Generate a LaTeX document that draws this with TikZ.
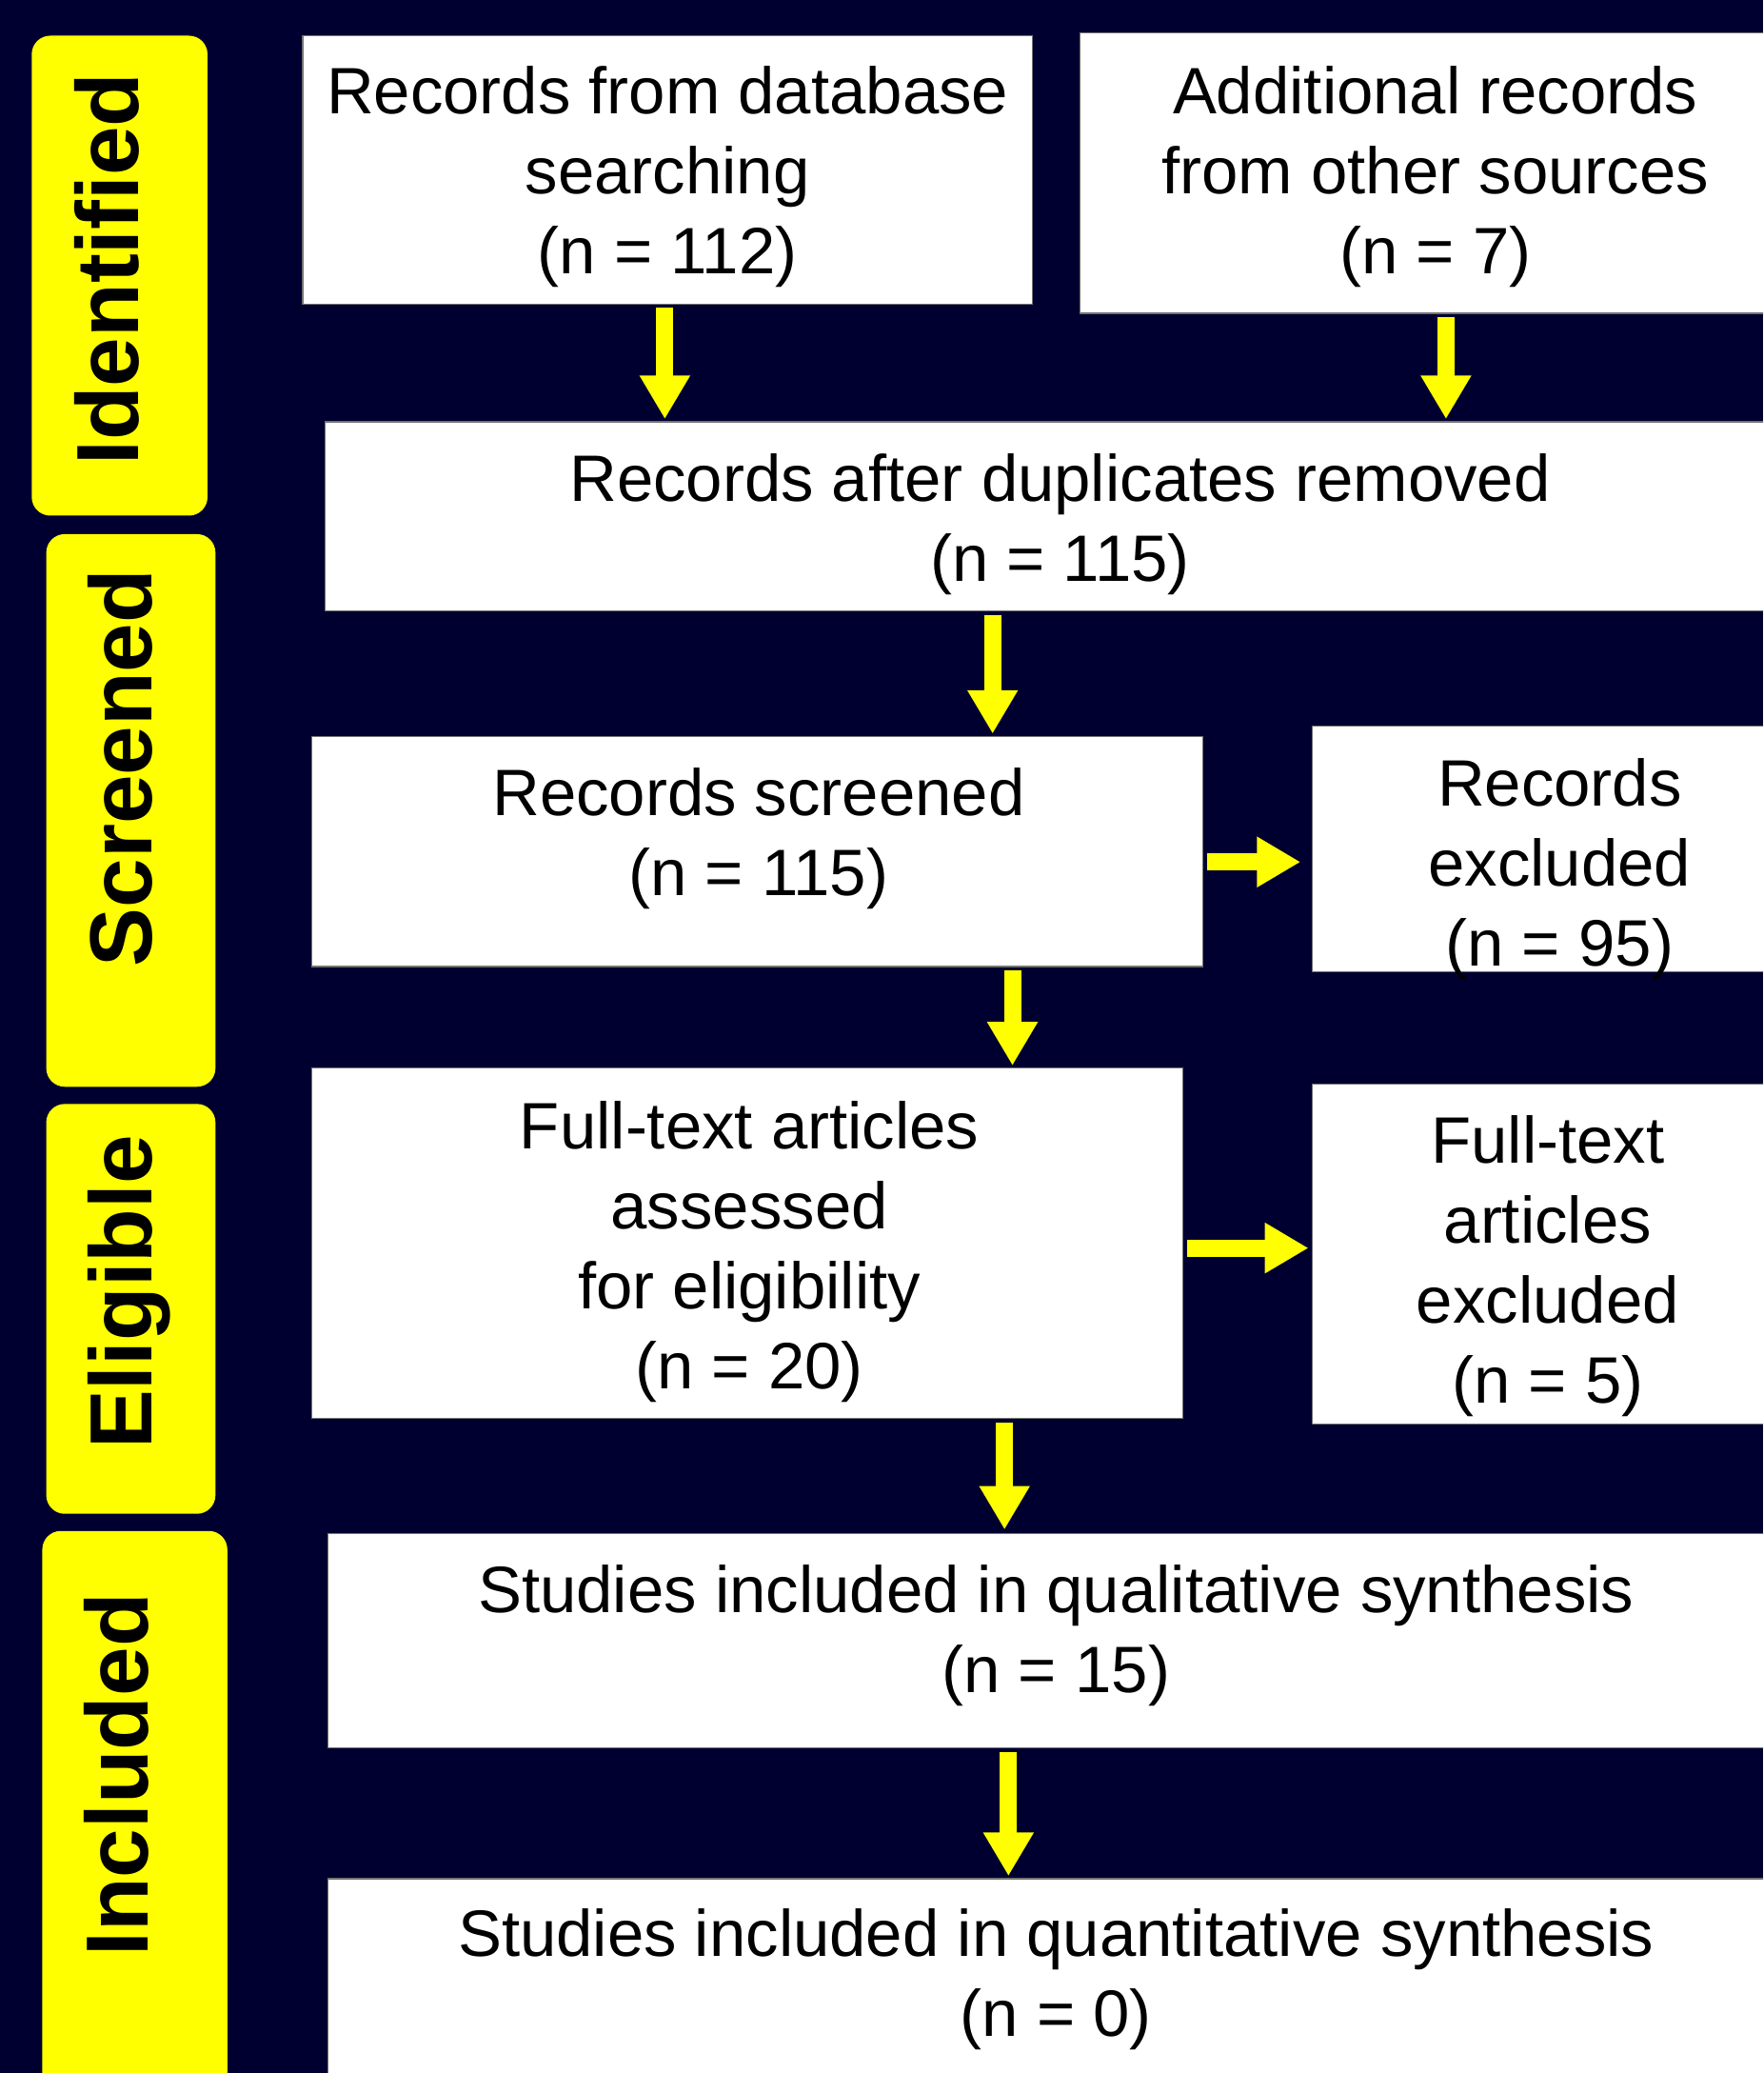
\documentclass[tikz,border=0pt]{standalone}
\usepackage{fontspec}
\setmainfont{Liberation Sans}
\usetikzlibrary{arrows.meta,fit,calc}
\definecolor{navybg}{RGB}{0,0,48}
\definecolor{ylw}{RGB}{255,255,0}
\begin{document}
\begin{tikzpicture}[x=0.02cm,y=-0.02cm,
  box/.style={draw=black!55, line width=0.5pt, fill=white, inner sep=0pt, outer sep=0pt},
  txt/.style={font=\fontsize{28.25}{34.43}\selectfont, align=center, inner sep=0pt, text=black},
  lbl/.style={fill=ylw, draw=none, inner sep=0pt, outer sep=0pt, rounded corners=0.28cm},
  lbltxt/.style={font=\fontsize{38}{45}\selectfont\bfseries, rotate=90, anchor=base, inner sep=0pt, text=black},
  arr/.style={draw=ylw, line width=0.26cm, -{Triangle[length=0.66cm,width=0.72cm]}, ylw}
]
\useasboundingbox (0,0) rectangle (1334,1568);
\clip (0,0) rectangle (1334,1568);
\fill[navybg] (0,0) rectangle (1334,1568);

% side labels
\node[lbl, fit={(24,27) (157,390)}] (Lid) {};
\node[lbl, fit={(35,404) (163,822)}] (Lsc) {};
\node[lbl, fit={(35,835) (163,1145)}] (Lel) {};
\node[lbl, fit={(32,1158) (172,1600)}] (Lin) {};
\node[lbltxt] (Lidt) at (105,203.5) {Identified};
\node[lbltxt] (Lsct) at (115,581) {Screened};
\node[lbltxt] (Lelt) at (115,977.5) {Eligible};
\node[lbltxt] (Lint) at (112,1342.5) {Included};

% boxes
\node[box, fit={(229,27) (781,230)}] (A) {};
\node[box, fit={(817,25) (1360,237)}] (B) {};
\node[box, fit={(246,319) (1360,462)}] (C) {};
\node[box, fit={(236,557) (910,731)}] (D) {};
\node[box, fit={(993,549) (1360,735)}] (E) {};
\node[box, fit={(236,808) (895,1073)}] (F) {};
\node[box, fit={(993,820) (1360,1077)}] (G) {};
\node[box, fit={(248,1160) (1360,1322)}] (H) {};
\node[box, fit={(248,1421) (1360,1600)}] (I) {};

% texts
\node[txt] (At) at (505,134.4) {\strut Records from database\\\strut searching\\\strut (n = 112)};
\node[txt] (Bt) at (1086,134.4) {\strut Additional records\\\strut from other sources\\\strut (n = 7)};
\node[txt] (Ct) at (802,397.2) {\strut Records after duplicates removed\\\strut (n = 115)};
\node[txt] (Dt) at (574,635.2) {\strut Records screened\\\strut (n = 115)};
\node[txt] (Et) at (1180,658.4) {\strut Records\\\strut excluded\\\strut (n = 95)};
\node[txt] (Ft) at (567,947.7) {\strut Full-text articles\\\strut assessed\\\strut for eligibility\\\strut (n = 20)};
\node[txt] (Gt) at (1171,958.7) {\strut Full-text\\\strut articles\\\strut excluded\\\strut (n = 5)};
\node[txt] (Ht) at (799,1238.2) {\strut Studies included in qualitative synthesis\\\strut (n = 15)};
\node[txt] (It) at (799,1498.2) {\strut Studies included in quantitative synthesis\\\strut (n = 0)};

% arrows
\draw[arr] ($(A.south west)+(274,3)$) -- ($(A.south west |- C.north)+(274,-2)$);
\draw[arr] ($(B.south west)+(277,3)$) -- ($(B.south west |- C.north)+(277,-2)$);
\draw[arr] ($(C.south west)+(505,3)$) -- ($(C.south west |- D.north)+(505,-2)$);
\draw[arr] ($(D.east)+(3,8)$) -- ($(D.east -| E.west)+(-9,8)$);
\draw[arr] ($(D.south west)+(530,3)$) -- ($(D.south west |- F.north)+(530,-2)$);
\draw[arr] ($(F.east)+(3,3.5)$) -- ($(F.east -| G.west)+(-3,3.5)$);
\draw[arr] ($(F.south west)+(524,3)$) -- ($(F.south west |- H.north)+(524,-3)$);
\draw[arr] ($(H.south west)+(515,3)$) -- ($(H.south west |- I.north)+(515,-2)$);
\end{tikzpicture}
\end{document}
